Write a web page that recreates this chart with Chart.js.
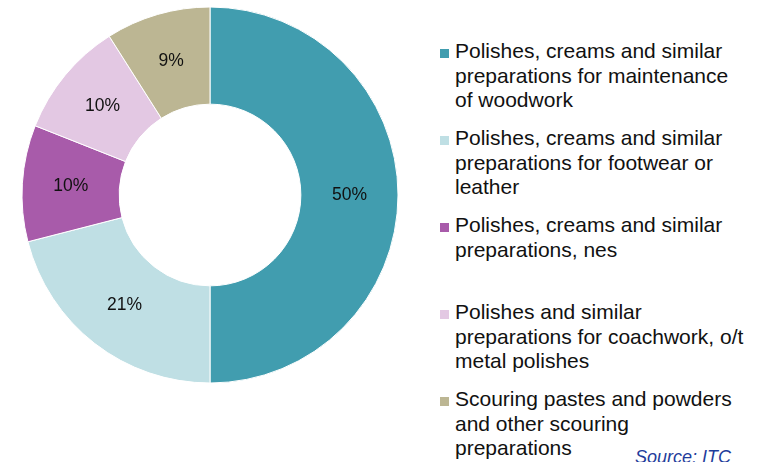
<!DOCTYPE html>
<html>
<head>
<meta charset="utf-8">
<script src="https://cdn.jsdelivr.net/npm/chart.js@4"></script>
<style>
    html, body { margin: 0; padding: 0; background: #fff; }
    body { width: 768px; height: 462px; position: relative; overflow: hidden; font-family: Arial, "Liberation Sans", sans-serif; }
    #chartBox { position: absolute; left: 0; top: 0; width: 420px; height: 390px; }
    .legend-item { position: absolute; left: 455px; font-size: 21px; line-height: 24.5px; color: #111; white-space: nowrap; }
    .legend-item .swatch { position: absolute; left: -15px; top: 10px; width: 9px; height: 9px; }
    #source { position: absolute; left: 635px; top: 448px; font-size: 18px; line-height: 18px; font-style: italic; color: #1f3d9b; white-space: nowrap; }
</style>
</head>
<body>
<div id="chartBox"><canvas id="donut"></canvas></div>
<div id="legend"></div>
<div id="source">Source: ITC</div>
<script>
// ===== DATA =====
const categories = [
    ["Polishes, creams and similar", "preparations for maintenance", "of woodwork"],
    ["Polishes, creams and similar", "preparations for footwear or", "leather"],
    ["Polishes, creams and similar", "preparations, nes"],
    ["Polishes and similar", "preparations for coachwork, o/t", "metal polishes"],
    ["Scouring pastes and powders", "and other scouring", "preparations"]
];
const shares = [50, 21, 10, 10, 9];
const colors = ["#419daf", "#bfdfe4", "#a85baa", "#e3c8e3", "#bcb693"];

// ===== LABELS ON SLICES =====
const sliceLabels = {
    id: "sliceLabels",
    afterDatasetsDraw(chart) {
        const ctx = chart.ctx;
        const meta = chart.getDatasetMeta(0);
        ctx.save();
        ctx.fillStyle = "#111";
        ctx.font = "17.5px Arial, 'Liberation Sans', sans-serif";
        ctx.textAlign = "center";
        ctx.textBaseline = "middle";
        meta.data.forEach((arc, i) => {
            const p = arc.getCenterPoint();
            ctx.fillText(shares[i] + "%", p.x, p.y);
        });
        ctx.restore();
    }
};

new Chart(document.getElementById("donut"), {
    type: "doughnut",
    data: {
        labels: categories,
        datasets: [{
            data: shares,
            backgroundColor: colors,
            borderColor: "#fff",
            borderWidth: 1,
            hoverOffset: 0
        }]
    },
    options: {
        responsive: true,
        maintainAspectRatio: false,
        animation: false,
        radius: 188,
        cutout: 94,
        layout: { padding: 0 },
        plugins: {
            legend: { display: false },
            tooltip: { enabled: false }
        }
    },
    plugins: [sliceLabels]
});

// ===== LEGEND =====
const legend = document.getElementById("legend");
categories.forEach((lines, i) => {
    const item = document.createElement("div");
    item.className = "legend-item";
    item.style.top = (39 + i * 87) + "px";
    item.innerHTML = '<span class="swatch" style="background:' + colors[i] + '"></span>' + lines.join("<br>");
    legend.appendChild(item);
});
</script>
</body>
</html>
